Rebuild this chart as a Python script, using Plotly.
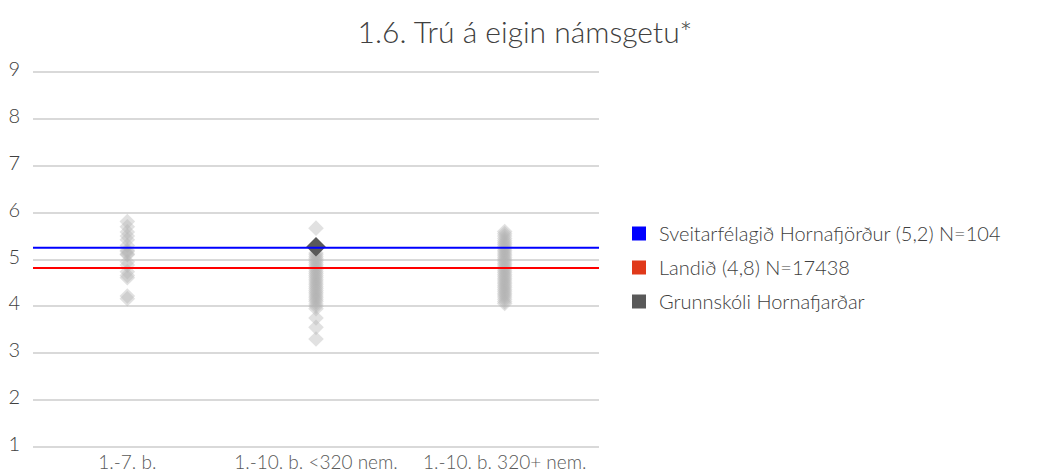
import plotly.graph_objects as go

categories = ["1.-7. b.", "1.-10. b. <320 nem.", "1.-10. b. 320+ nem."]

schools_c1 = [5.81, 5.70, 5.59, 5.50, 5.42, 5.30, 5.20, 5.17, 5.12, 5.10, 4.95, 4.88, 4.74, 4.66, 4.61, 4.22, 4.16]
schools_c2 = [5.67, 5.14, 5.10, 5.06, 5.02, 4.98, 4.94, 4.90, 4.86, 4.82, 4.78, 4.74, 4.70, 4.66, 4.62,
              4.58, 4.54, 4.50, 4.46, 4.42, 4.38, 4.34, 4.30, 4.26, 4.22, 4.18, 4.14, 4.10, 4.05, 4.00,
              3.95, 3.75, 3.55, 3.30]
schools_c3 = [5.60, 5.55, 5.50, 5.45, 5.40, 5.36, 5.32, 5.28, 5.24, 5.20, 5.16, 5.12, 5.08, 5.04, 5.00,
              4.96, 4.92, 4.88, 4.84, 4.80, 4.76, 4.72, 4.68, 4.64, 4.60, 4.56, 4.52, 4.48, 4.44, 4.40,
              4.36, 4.32, 4.28, 4.24, 4.20, 4.15, 4.10, 4.06]

school_category = "1.-10. b. <320 nem."
school_value = 5.27

municipality_value = 5.25
country_value = 4.82

legend_names = ["Sveitarfélagið Hornafjörður (5,2) N=104", "Landið (4,8) N=17438", "Grunnskóli Hornafjarðar"]
legend_colors = ["#0000ff", "#e0391a", "#595959"]
y_ticks = [1, 2, 3, 4, 5, 6, 7, 8, 9]

FONT = "Lato, Open Sans, sans-serif"

fig = go.Figure()

for cat, vals in zip(categories, [schools_c1, schools_c2, schools_c3]):
    fig.add_trace(go.Scatter(
        x=[cat] * len(vals), y=vals, mode="markers",
        marker=dict(symbol="diamond", size=12, color="#b5b5b5", opacity=0.4, line=dict(width=0)),
        showlegend=False, hoverinfo="y"))

fig.add_trace(go.Scatter(x=[-0.5, 2.5], y=[municipality_value] * 2, mode="lines", xaxis="x2",
                         line=dict(color="#0000ff", width=2), showlegend=False))
fig.add_trace(go.Scatter(x=[-0.5, 2.5], y=[country_value] * 2, mode="lines", xaxis="x2",
                         line=dict(color="#ff0000", width=2), showlegend=False))

fig.add_trace(go.Scatter(
    x=[school_category], y=[school_value], mode="markers",
    marker=dict(symbol="diamond", size=15, color="#595959", line=dict(width=0)),
    showlegend=False))

for i, (name, col) in enumerate(zip(legend_names, legend_colors)):
    fig.add_trace(go.Scatter(x=[None], y=[None], mode="markers", name=name, legendgroup=f"g{i}",
                             marker=dict(symbol="square", size=14, color=col)))

TOP, BOTTOM = 70, 449
fig.update_layout(
    width=1040, height=475,
    margin=dict(l=33, r=441, t=TOP, b=475 - BOTTOM),
    paper_bgcolor="white", plot_bgcolor="white",
    font=dict(family=FONT, color="#404040", weight=300),
    title=dict(text="1.6. Trú á eigin námsgetu*", x=525 / 1040, xanchor="center",
               y=1 - 32 / 475, yanchor="middle",
               font=dict(family=FONT, size=30, color="#404040", weight=300)),
    xaxis=dict(type="category", categoryorder="array", categoryarray=categories,
               range=[-0.5, 2.5], showgrid=False, zeroline=False, showline=False,
               tickfont=dict(family=FONT, size=19, color="#595959", weight=300), ticks="",
               ticklabelstandoff=0, automargin=False),
    xaxis2=dict(overlaying="x", range=[-0.5, 2.5], visible=False),
    yaxis=dict(range=[0.95, 9.05], tickvals=y_ticks, showgrid=True,
               gridcolor="#d9d9d9", gridwidth=1.5,
               zeroline=False, showline=False, ticks="",
               tickfont=dict(family=FONT, size=20, color="#404040", weight=300),
               ticklabelstandoff=12, ticklabelshift=-3, automargin=False),
    legend=dict(x=(619 - 33) / 566, xanchor="left", y=(BOTTOM - 267.5) / (BOTTOM - TOP),
                yanchor="middle",
                font=dict(family=FONT, size=20, color="#404040", weight=300),
                tracegroupgap=5, itemwidth=30, bgcolor="rgba(0,0,0,0)"),
    showlegend=True,
)

fig.write_html("out.html", config={"displayModeBar": False},
               post_script="document.body.style.margin='0';")
